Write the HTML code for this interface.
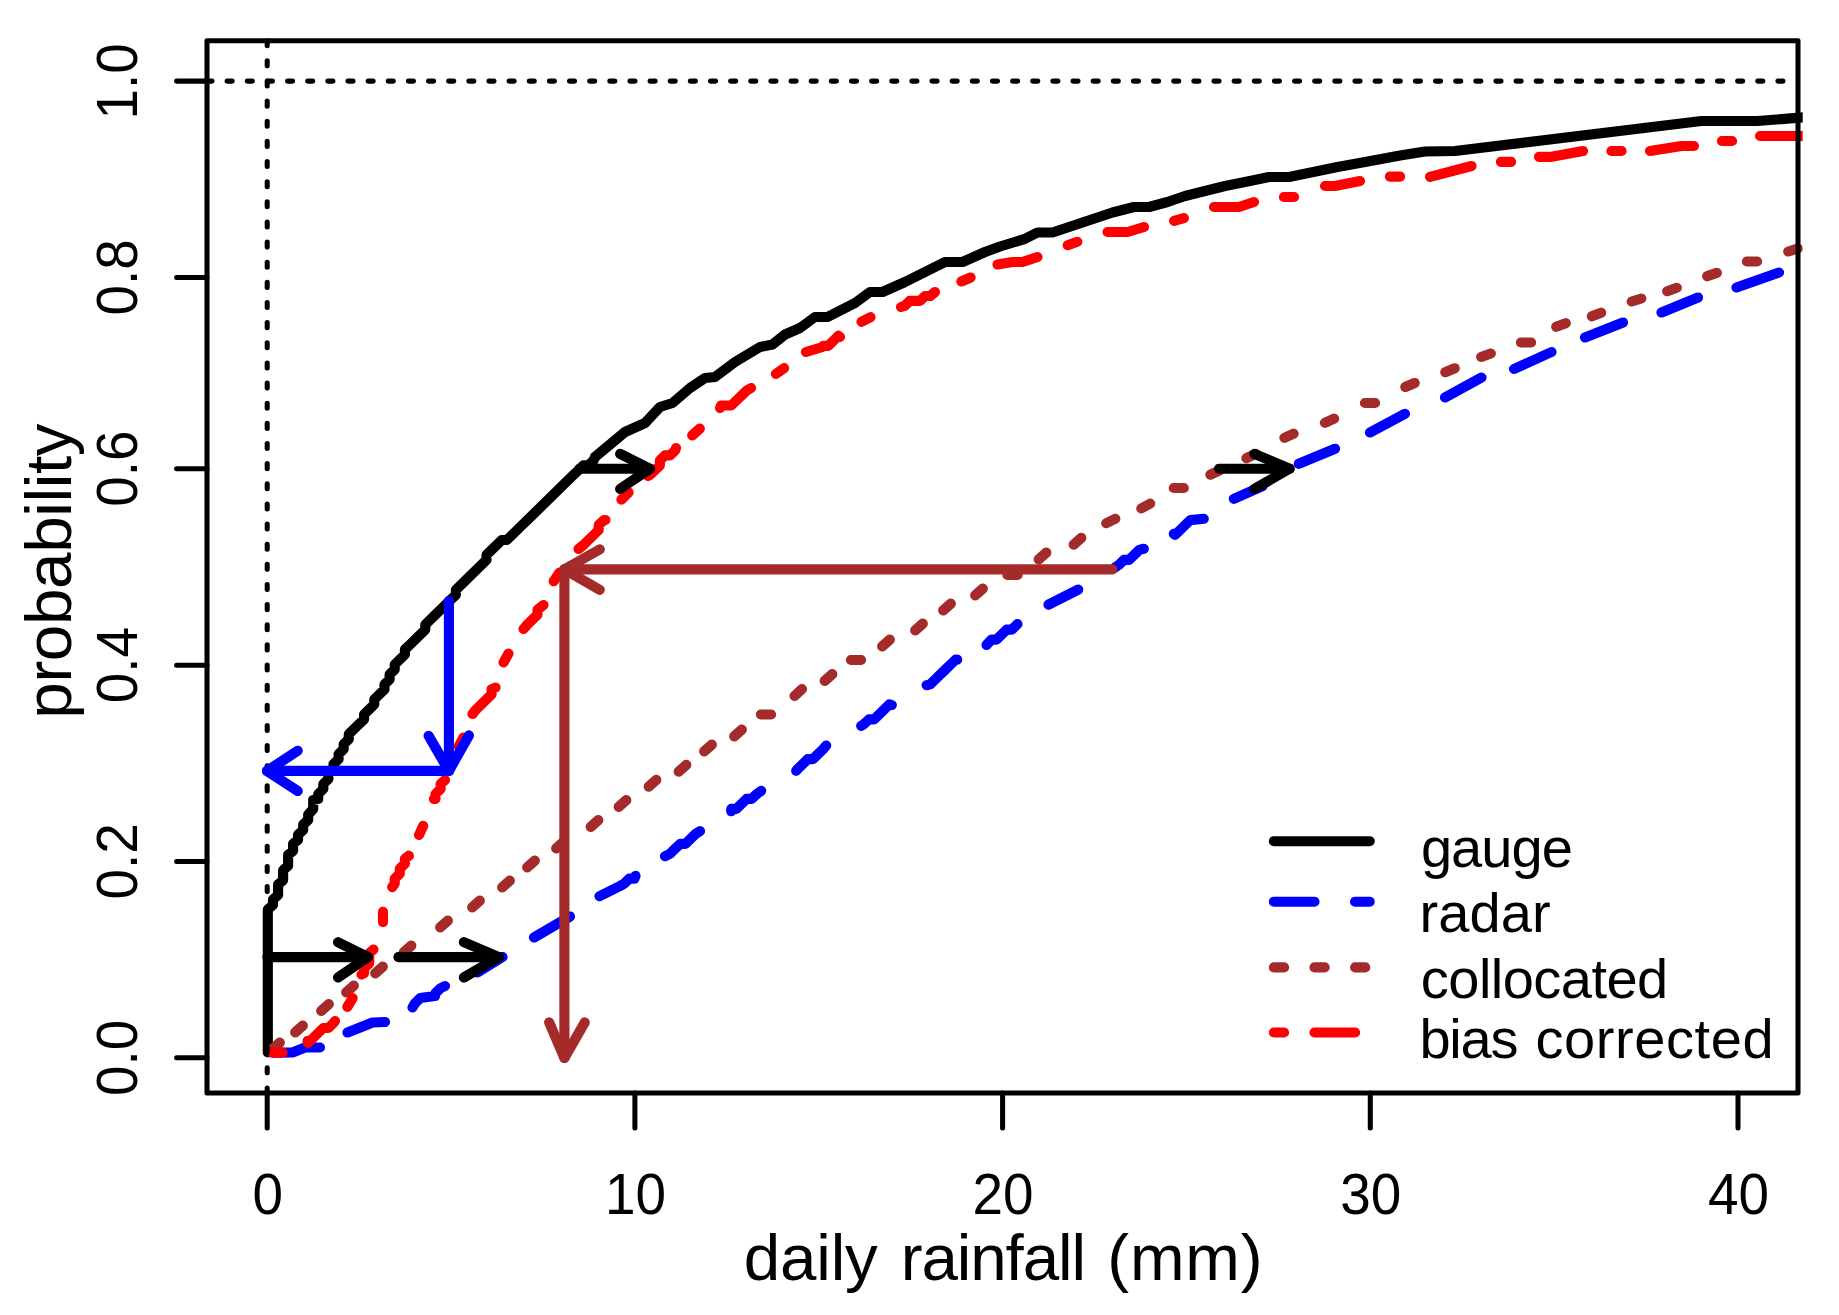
<!DOCTYPE html>
<html lang="en"><head><meta charset="utf-8"><title>CDF of daily rainfall</title>
<style>
html,body{margin:0;padding:0;background:#fff;}
body{width:1839px;height:1315px;overflow:hidden;}
svg{display:block;}
text{font-family:"Liberation Sans",sans-serif;fill:#000;}
.tk{font-size:56px;}
.tk2{font-size:56.8px;}
.ti{font-size:65.5px;}
</style></head><body>
<svg width="1839" height="1315" viewBox="0 0 1839 1315">
<rect width="1839" height="1315" fill="#fff"/>
<defs><clipPath id="cp"><rect x="204.5" y="38.3" width="1598.2" height="1057.2"/></clipPath></defs>
<g clip-path="url(#cp)" fill="none" stroke-linecap="round" stroke-linejoin="round">
<polyline points="267.8,1052.5 267.8,909.5 273.0,905.0 273.0,899.5 278.1,895.0 278.1,884.4 283.1,880.3 283.1,870.3 288.1,865.7 288.1,854.8 293.1,851.0 293.1,843.8 298.0,840.0 298.0,834.7 303.2,830.0 303.2,824.6 308.2,820.0 308.2,814.6 313.2,809.0 313.2,800.0 318.2,798.9 318.2,794.0 323.3,789.0 323.3,784.0 328.4,779.0 328.4,774.0 333.5,769.1 333.5,764.1 338.6,759.1 338.6,754.1 343.7,749.1 343.7,744.2 348.8,739.2 348.8,734.2 353.9,729.2 359.0,724.2 364.1,719.3 364.1,714.3 369.2,709.3 374.3,704.3 374.3,699.3 379.4,694.4 384.5,689.4 384.5,684.4 389.6,679.4 389.6,674.4 394.7,669.5 394.7,664.5 399.8,659.5 404.9,654.5 404.9,649.5 410.0,644.6 415.1,639.6 420.2,634.6 425.3,629.6 425.3,624.6 430.4,619.7 435.5,614.7 440.6,609.7 445.7,604.7 450.8,599.7 455.9,594.8 455.9,589.8 461.0,584.8 466.1,579.8 471.2,574.8 476.3,569.9 481.4,564.9 486.5,559.9 486.5,554.9 491.6,549.9 496.7,545.0 501.8,540.0 506.9,540.0 512.0,535.0 517.1,530.0 522.2,525.0 527.3,520.1 532.4,515.1 537.5,510.1 542.6,505.1 547.7,500.1 552.8,495.2 557.9,490.2 563.0,485.2 568.1,480.2 573.2,475.2 578.3,470.3 583.4,465.3 588.5,465.3 593.6,460.3 595.0,457.0 625.0,432.0 645.0,423.0 660.0,407.0 672.5,403.0 690.0,388.0 705.0,378.0 715.0,377.0 735.0,362.0 760.0,347.0 772.5,344.5 785.0,334.5 800.0,328.0 815.0,317.0 827.5,317.0 855.0,303.0 870.0,292.0 882.5,292.0 905.0,282.0 945.0,262.0 962.5,262.0 985.0,252.0 1000.0,246.5 1025.0,238.8 1037.5,232.5 1052.5,232.5 1082.5,222.5 1112.5,212.5 1134.0,207.0 1149.0,207.0 1167.5,202.0 1185.0,196.0 1225.0,186.0 1250.0,181.0 1269.0,177.0 1289.0,177.0 1337.5,167.0 1365.0,162.0 1400.0,155.5 1425.0,151.5 1455.0,151.0 1701.4,121.0 1757.3,121.0 1806.0,117.2" stroke="#000" stroke-width="10.15"/>
<path d="M272.5 1052.6L292.5 1052.5L305.0 1047.5L320.0 1047.5M347.5 1032.5L360.0 1027.5L372.5 1022.5L385.0 1022.0M412.5 1007.5L415.1 1003.1L420.2 998.1L435.0 996.0L435.5 993.2L440.6 988.2L445.0 986.0M477.5 972.5L502.5 957.0M534.0 937.5L570.0 916.5M599.5 896.2L620.0 886.0L624.2 883.6L629.3 878.6L634.4 878.6L635.5 875.8M665.0 856.2L670.1 853.7L675.2 848.7L680.3 843.8L685.4 843.8L690.5 838.8L695.6 833.8L700.0 831.2M731.2 811.2L731.3 808.9L736.4 808.9L741.5 803.9L746.6 798.9L751.7 798.9L756.8 794.0L761.2 790.8M796.2 770.8L797.6 769.1L802.7 764.1L807.8 759.1L812.9 759.1L818.0 754.1L823.1 749.1L826.2 745.5M861.2 725.8L863.9 724.2L869.0 719.3L874.1 719.3L879.2 714.3L884.3 709.3L889.4 704.3L891.8 705.0M926.6 685.2L930.2 684.4L935.3 679.4L940.4 674.4L945.5 669.5L950.6 664.5L955.7 659.5L957.2 659.6M986.5 645.0L991.4 639.6L996.5 639.6L1001.6 634.6L1006.7 629.6L1011.8 629.6L1016.9 624.6L1017.5 624.0M1048.5 604.6L1078.2 589.6M1115.0 567.5L1118.9 564.9L1124.0 559.9L1129.1 559.9L1134.2 554.9L1139.3 549.9L1143.8 548.8M1173.8 533.8L1175.0 535.0L1180.1 530.0L1185.2 525.0L1190.3 520.1L1203.8 518.8M1233.8 498.8L1262.5 486.2M1298.8 463.8L1335.0 448.8M1370.0 432.5L1405.0 413.8M1445.0 397.5L1481.5 377.5M1514.0 369.0L1551.5 352.0M1585.0 337.5L1623.0 322.5M1661.5 312.5L1698.0 297.5M1736.5 287.5L1779.0 272.5" stroke="#0000ff" stroke-width="10.15"/>
<path d="M272.2 1049.4L279.8 1042.6M295.2 1032.4L302.8 1025.6M321.2 1010.9L328.8 1004.1M346.2 992.4L353.8 985.6M375.2 973.4L382.8 966.6M403.7 952.4L411.3 945.6M440.2 927.4L447.8 920.6M472.2 907.4L479.8 900.6M502.2 887.4L509.8 880.6M527.2 867.4L534.8 860.6M556.2 848.4L563.8 841.6M590.7 826.9L598.3 820.1M618.7 806.9L626.3 800.1M648.7 786.6L656.3 779.9M678.7 771.6L686.3 764.9M704.2 751.4L711.8 744.6M734.2 736.4L741.8 729.6M760.9 714.5L771.1 714.5M794.5 695.9L802.0 689.1M824.7 680.9L832.3 674.1M850.9 660.0L861.1 660.0M882.2 646.4L889.8 639.6M915.2 630.4L922.8 623.6M943.2 610.4L950.8 603.6M975.2 595.4L982.8 588.6M1007.4 575.0L1017.6 575.0M1038.7 559.4L1046.3 552.6M1073.7 544.6L1081.3 537.9M1106.2 523.2L1115.3 518.8M1141.3 508.4L1150.2 503.6M1173.7 488.0L1183.8 488.0M1210.4 474.7L1219.6 470.3M1246.4 458.2L1255.6 453.8M1284.4 437.8L1293.6 433.7M1324.9 422.8L1334.1 418.7M1364.9 403.0L1375.1 403.0M1405.3 387.0L1414.7 383.0M1445.3 372.2L1454.7 368.3M1481.2 357.0L1490.8 353.5M1520.9 342.5L1531.1 342.5M1556.2 326.8L1565.8 323.2M1591.8 316.3L1601.2 312.7M1631.7 301.5L1641.3 298.5M1667.2 291.2L1676.8 287.8M1707.2 276.1L1716.8 272.9M1746.9 261.5L1757.1 261.5M1788.2 251.5L1797.8 248.5" stroke="#a52a2a" stroke-width="10.15"/>
<path d="M307.5 1041.0L308.0 1043.0L313.1 1038.0L318.2 1033.0L323.3 1028.0L328.4 1028.0L333.5 1023.0L335.0 1021.0M361.5 974.5L364.1 973.2L364.1 968.3L369.2 963.3L369.2 958.3L369.2 953.3L373.5 949.5M392.2 887.2L394.7 883.6L394.7 878.6L399.8 873.6L399.8 868.7L404.9 863.7L404.9 858.7L408.9 855.7M433.9 799.0L435.5 798.9L435.5 794.0L440.6 789.0L440.6 784.0L445.0 780.0M472.5 714.0L476.3 709.3L481.4 704.3L486.5 699.3L491.6 694.4L491.6 689.4L495.5 687.5M523.5 629.0L527.3 624.6L532.4 619.7L537.5 614.7L537.5 609.7L543.5 605.0M578.5 549.0L583.4 545.0L588.5 540.0L593.6 535.0L598.7 530.0L598.7 525.0L603.8 520.1L605.5 520.0M648.0 476.0L649.7 475.2L654.8 470.3L659.9 465.3L659.9 460.3L665.0 455.3L670.1 455.3L675.2 450.3L676.0 448.0M720.0 408.0L721.1 405.5L726.2 405.5L731.3 405.5L736.4 400.5L741.5 395.6L746.6 390.6L751.0 388.0M806.0 352.0L822.5 347.0L823.1 345.8L828.2 345.8L833.3 340.8L838.4 335.8L840.0 337.0M901.0 307.0L904.7 305.9L909.8 300.9L914.9 300.9L920.0 300.9L925.1 296.0L930.2 296.0L935.0 292.0M997.5 264.5L1012.5 262.0L1022.5 262.0L1037.5 257.0M1107.5 232.0L1127.5 232.0L1144.0 227.0M1214.0 207.0L1239.0 207.0L1254.0 202.0M1325.0 186.0L1335.0 186.0L1360.0 181.0M1430.0 176.8L1471.5 166.0M1539.0 156.8L1551.5 156.8L1583.0 151.0M1650.0 151.0L1681.5 146.0L1694.0 146.0M1760.0 136.0L1806.0 136.0" stroke="#ff0000" stroke-width="10.15"/>
<path d="M272.4 1052.6L282.6 1052.6M347.4 1006.9L352.6 998.1M383.0 911.9L383.0 922.1M419.0 835.0L423.2 825.8M458.7 746.5L463.3 737.5M503.5 662.4L508.5 653.6M553.7 581.2L559.3 572.8M621.4 499.6L628.6 492.4M692.2 435.4L699.8 428.6M775.9 373.9L784.1 368.1M861.5 321.8L870.5 317.2M961.4 281.5L970.6 277.5M1067.7 245.2L1077.3 241.8M1174.1 220.9L1183.9 218.1M1283.9 197.0L1294.1 197.0M1389.9 176.6L1400.1 176.6M1500.9 161.8L1511.1 161.8M1611.4 151.0L1621.6 151.0M1721.9 141.0L1732.1 141.0" stroke="#ff0000" stroke-width="10.15"/>
<line x1="207.0" y1="81.1" x2="1798.0" y2="81.1" stroke="#000" stroke-width="5.05" stroke-dasharray="5.035 15.105"/>
<line x1="267.2" y1="1093.0" x2="267.2" y2="40.8" stroke="#000" stroke-width="5.05" stroke-dasharray="5.035 15.105"/>
</g>
<g fill="none" stroke="#000" stroke-width="10.15" stroke-linecap="round" stroke-linejoin="round"><line x1="267.4" y1="957.1" x2="367.9" y2="957.1"/><polyline points="338.0,942.2 367.9,957.1 338.0,977.5"/></g>
<g fill="none" stroke="#000" stroke-width="10.15" stroke-linecap="round" stroke-linejoin="round"><line x1="398.4" y1="957.1" x2="498.9" y2="957.1"/><polyline points="463.8,942.2 498.9,957.1 463.8,977.5"/></g>
<g fill="none" stroke="#000" stroke-width="10.15" stroke-linecap="round" stroke-linejoin="round"><line x1="579.5" y1="468.7" x2="649.9" y2="468.7"/><polyline points="620.1,453.9 649.9,468.7 620.1,488.9"/></g>
<g fill="none" stroke="#000" stroke-width="10.15" stroke-linecap="round" stroke-linejoin="round"><line x1="1219.1" y1="468.7" x2="1289.6" y2="468.7"/><polyline points="1254.4,453.9 1289.6,468.7 1254.4,488.9"/></g>
<g fill="none" stroke="#0000ff" stroke-width="10.15" stroke-linecap="round" stroke-linejoin="round"><line x1="448.9" y1="601.0" x2="448.9" y2="770.9"/><polyline points="428.6,735.8 448.9,770.9 468.9,735.4"/></g>
<g fill="none" stroke="#0000ff" stroke-width="10.15" stroke-linecap="round" stroke-linejoin="round"><line x1="448.9" y1="770.9" x2="267.0" y2="770.9"/><polyline points="297.7,750.8 267.0,770.9 297.7,791.0"/></g>
<g fill="none" stroke="#a52a2a" stroke-width="10.15" stroke-linecap="round" stroke-linejoin="round"><line x1="1112.4" y1="569.3" x2="564.3" y2="569.3"/><polyline points="599.8,549.3 564.3,569.3 599.8,589.8"/></g>
<g fill="none" stroke="#a52a2a" stroke-width="10.15" stroke-linecap="round" stroke-linejoin="round"><line x1="564.4" y1="569.3" x2="564.4" y2="1058.0"/><polyline points="549.2,1022.4 564.4,1058.0 584.7,1022.4"/></g>
<g fill="none" stroke="#000" stroke-width="5.05" stroke-linecap="round" stroke-linejoin="round">
<rect x="207.0" y="40.8" width="1591.0" height="1052.2"/>
<line x1="207.0" y1="1057.8" x2="176.6" y2="1057.8"/>
<line x1="207.0" y1="861.5" x2="176.6" y2="861.5"/>
<line x1="207.0" y1="665.2" x2="176.6" y2="665.2"/>
<line x1="207.0" y1="468.7" x2="176.6" y2="468.7"/>
<line x1="207.0" y1="277.5" x2="176.6" y2="277.5"/>
<line x1="207.0" y1="81.1" x2="176.6" y2="81.1"/>
<line x1="267.2" y1="1093.0" x2="267.2" y2="1128.0"/>
<line x1="634.9" y1="1093.0" x2="634.9" y2="1128.0"/>
<line x1="1002.6" y1="1093.0" x2="1002.6" y2="1128.0"/>
<line x1="1370.3" y1="1093.0" x2="1370.3" y2="1128.0"/>
<line x1="1738.0" y1="1093.0" x2="1738.0" y2="1128.0"/>
</g>
<text class="tk2" transform="translate(267.7,1214.2) scale(0.966,1)" text-anchor="middle">0</text>
<text class="tk2" transform="translate(635.4,1214.2) scale(0.966,1)" text-anchor="middle">10</text>
<text class="tk2" transform="translate(1003.1,1214.2) scale(0.966,1)" text-anchor="middle">20</text>
<text class="tk2" transform="translate(1370.8,1214.2) scale(0.966,1)" text-anchor="middle">30</text>
<text class="tk2" transform="translate(1738.5,1214.2) scale(0.966,1)" text-anchor="middle">40</text>
<text class="tk2" transform="translate(137.3,1057.8) rotate(-90) scale(0.966,1)" text-anchor="middle">0.0</text>
<text class="tk2" transform="translate(137.3,861.5) rotate(-90) scale(0.966,1)" text-anchor="middle">0.2</text>
<text class="tk2" transform="translate(137.3,665.2) rotate(-90) scale(0.966,1)" text-anchor="middle">0.4</text>
<text class="tk2" transform="translate(137.3,468.7) rotate(-90) scale(0.966,1)" text-anchor="middle">0.6</text>
<text class="tk2" transform="translate(137.3,277.5) rotate(-90) scale(0.966,1)" text-anchor="middle">0.8</text>
<text class="tk2" transform="translate(137.3,81.5) rotate(-90) scale(0.966,1)" text-anchor="middle">1.0</text>
<text class="ti" x="743.8" y="1279.5" textLength="134.0" lengthAdjust="spacing">daily</text>
<text class="ti" x="900.8" y="1279.5" textLength="185.2" lengthAdjust="spacing">rainfall</text>
<text class="ti" x="1107.3" y="1279.5" textLength="155.2" lengthAdjust="spacing">(mm)</text>
<text class="ti" transform="translate(70.8,571.1) rotate(-90)" text-anchor="middle" textLength="295.2" lengthAdjust="spacing">probability</text>
<g fill="none" stroke-linecap="round" stroke-width="10.15">
<line x1="1273.9" y1="841.2" x2="1369.7" y2="841.2" stroke="#000"/>
<line x1="1273.9" y1="901.7" x2="1369.7" y2="901.7" stroke="#0000ff" stroke-dasharray="40.60 40.60"/>
<line x1="1273.9" y1="967.4" x2="1369.7" y2="967.4" stroke="#a52a2a" stroke-dasharray="10.15 30.45"/>
<line x1="1273.9" y1="1032.5" x2="1369.7" y2="1032.5" stroke="#ff0000" stroke-dasharray="10.15 30.45 40.60 30.45"/>
</g>
<text class="tk" x="1420.9" y="866.8" textLength="151.9" lengthAdjust="spacing">gauge</text>
<text class="tk" x="1419.6" y="932.2" textLength="131.0" lengthAdjust="spacing">radar</text>
<text class="tk" x="1420.8" y="997.9" textLength="247.4" lengthAdjust="spacing">collocated</text>
<text class="tk" x="1419.5" y="1058.4" textLength="98.9" lengthAdjust="spacing">bias</text>
<text class="tk" x="1535.4" y="1058.4" textLength="238.2" lengthAdjust="spacing">corrected</text>
</svg></body></html>
